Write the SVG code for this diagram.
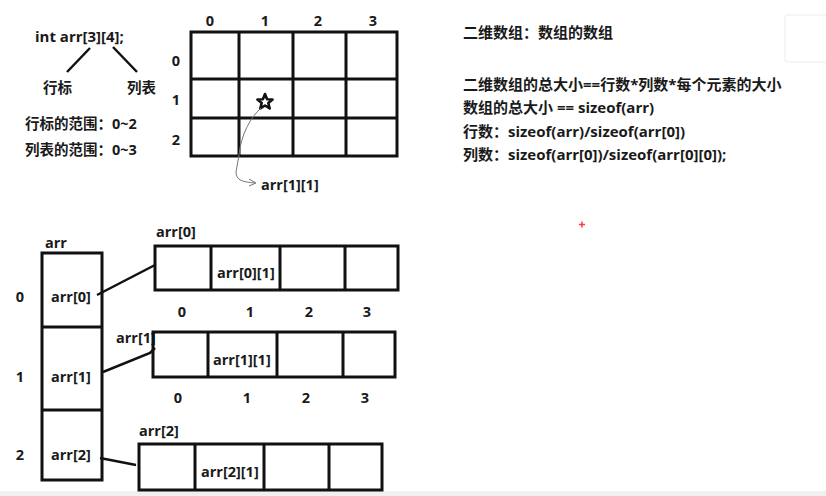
<svg xmlns="http://www.w3.org/2000/svg" width="826" height="496" viewBox="0 0 826 496">
<style>
text{font-family:"Open Sans","Noto Sans CJK SC",sans-serif;font-weight:700;fill:#1a1a1a;font-size:14.5px}
.r{font-size:15px}
.g{fill:none;stroke:#111;stroke-width:3}
.c{fill:none;stroke:#111;stroke-width:2.5}
.t{fill:none;stroke:#777;stroke-width:1}
.mid{text-anchor:middle}
</style>
<rect width="826" height="496" fill="#fff"/>
<rect x="0" y="491" width="826" height="5" fill="#f0f0f0"/>
<rect x="785" y="15" width="50" height="47" rx="3" fill="#fff" stroke="#eeeeee" stroke-width="1.2"/>
<path d="M579,224.5h6M582,221.5v6" stroke="#ff3b3b" stroke-width="1.5"/>

<g id="decl">
<text x="35" y="42" style="font-size:15px">int arr[3][4];</text>
<text x="43" y="93">行标</text>
<text x="127" y="93">列表</text>
<text x="25" y="129">行标的范围：0~2</text>
<text x="25" y="155">列表的范围：0~3</text>
</g>

<g id="grid">
<rect class="g" x="191" y="32" width="206" height="124"/>
<path class="g" d="M239,32V156M293,32V156M346,32V156M191,79H397M191,118H397"/>
<text class="mid" x="210" y="26">0</text>
<text class="mid" x="265" y="26">1</text>
<text class="mid" x="318" y="26">2</text>
<text class="mid" x="373" y="26">3</text>
<text class="mid" x="176" y="66">0</text>
<text class="mid" x="176" y="105">1</text>
<text class="mid" x="176" y="145">2</text>
<polygon points="265,94 267.1,99.2 272.6,99.5 268.3,103 269.7,108.5 265,105.5 260.3,108.5 261.7,103 257.4,99.5 262.9,99.2" fill="#fff" stroke="#111" stroke-width="2.6" stroke-linejoin="round"/>
<text x="261" y="190">arr[1][1]</text>
</g>

<g id="notes">
<text class="r" x="463" y="38">二维数组：数组的数组</text>
<text class="r" x="463" y="90">二维数组的总大小==行数*列数*每个元素的大小</text>
<text class="r" x="463" y="113">数组的总大小 == sizeof(arr)</text>
<text class="r" x="463" y="137">行数：sizeof(arr)/sizeof(arr[0])</text>
<text class="r" x="463" y="160">列数：sizeof(arr[0])/sizeof(arr[0][0]);</text>
</g>

<g id="arr">
<text x="45" y="248">arr</text>
<rect class="g" x="42" y="253" width="60" height="227"/>
<path class="g" d="M42,327H102M42,410H102"/>
<text x="51" y="302">arr[0]</text>
<text x="51" y="382">arr[1]</text>
<text x="51" y="460">arr[2]</text>
<text class="mid" x="20" y="302">0</text>
<text class="mid" x="20" y="382">1</text>
<text class="mid" x="20" y="460">2</text>
</g>

<g id="row0">
<text x="156" y="237">arr[0]</text>
<rect class="g" x="155" y="246" width="243" height="44"/>
<path class="g" d="M211,246V290M280,246V290M345,246V290"/>
<text x="217" y="278">arr[0][1]</text>
<text class="mid" x="182" y="317">0</text>
<text class="mid" x="250" y="317">1</text>
<text class="mid" x="309" y="317">2</text>
<text class="mid" x="367" y="317">3</text>
</g>

<g id="row1">
<text x="116" y="343">arr[1]</text>
<rect class="g" x="153" y="332" width="242" height="45"/>
<path class="g" d="M208,332V377M277,332V377M343,332V377"/>
<text x="213" y="365">arr[1][1]</text>
<text class="mid" x="178" y="403">0</text>
<text class="mid" x="247" y="403">1</text>
<text class="mid" x="306" y="403">2</text>
<text class="mid" x="365" y="403">3</text>
</g>

<g id="row2">
<text x="139" y="436">arr[2]</text>
<rect class="g" x="139" y="444" width="243" height="46"/>
<path class="g" d="M195,444V490M264,444V490M329,444V490"/>
<text x="201" y="477">arr[2][1]</text>
</g>

<g id="connectors">
<path class="c" d="M90,48L67,72"/>
<path class="c" d="M113,47L137,72"/>
<path class="t" d="M261,108C250,118 241,135 239,155L236,172C236,180 242,182 255,183"/>
<path class="t" d="M249,179L256,183L249,186"/>
<path class="c" d="M97,295L155,265"/>
<path class="c" d="M103,372L150,353L155,348"/>
<path class="c" d="M100,458L136,465"/>
</g>
</svg>
